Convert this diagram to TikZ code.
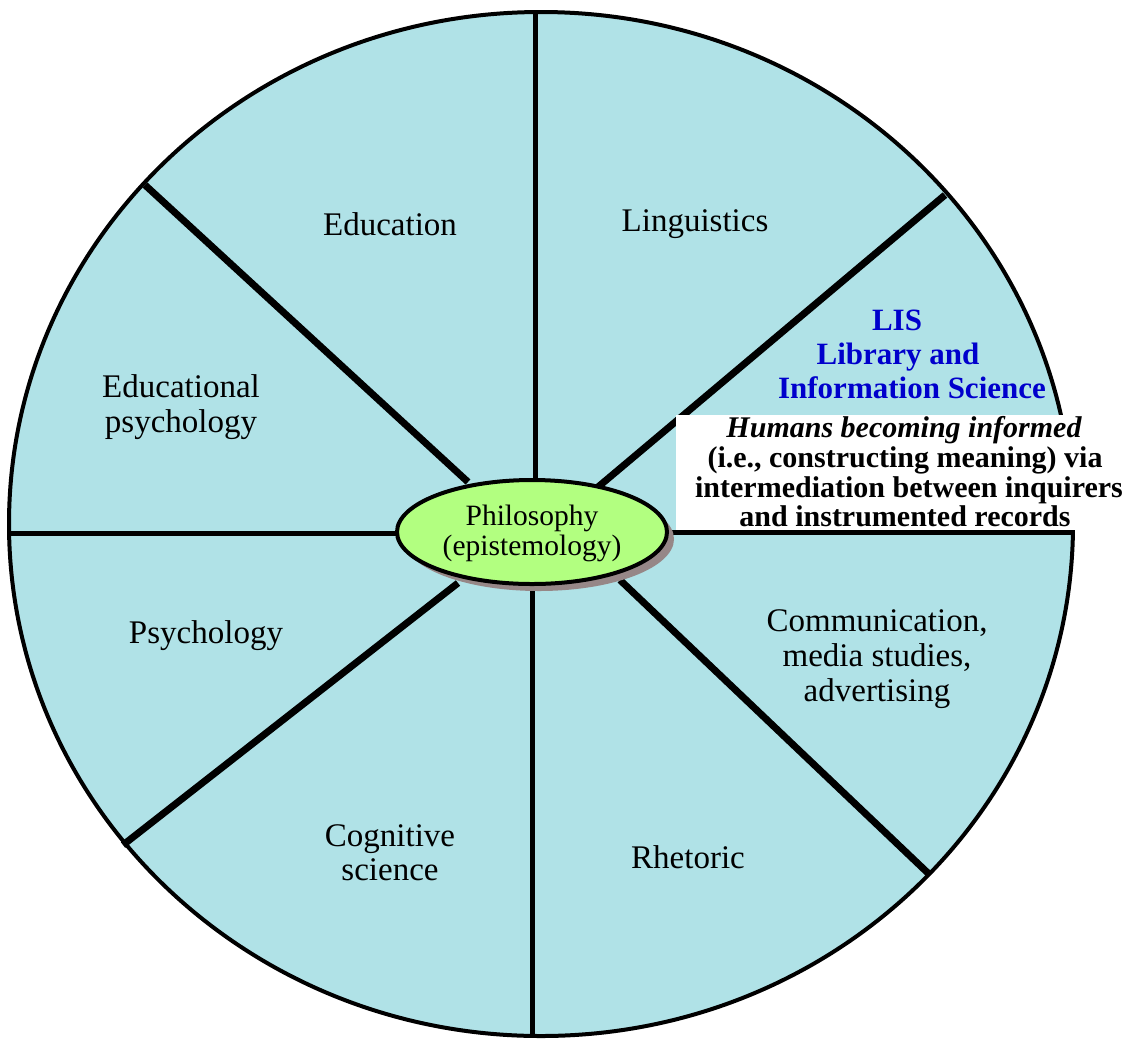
\documentclass[tikz,border=0pt]{standalone}
\usepackage{fontspec}
\setmainfont{Liberation Serif}
\newfontfamily\tnr{Liberation Serif}
\usetikzlibrary{shapes.geometric}
\definecolor{sector}{RGB}{176,226,231}
\definecolor{philo}{RGB}{178,255,128}
\definecolor{shadowc}{RGB}{150,135,135}
\definecolor{lisblue}{RGB}{0,0,204}
\tikzset{
  lbl/.style={anchor=base,inner sep=0pt,font=\tnr\fontsize{33}{35}\selectfont},
  lisl/.style={anchor=base,inner sep=0pt,text=lisblue,font=\tnr\fontsize{31}{35}\selectfont\bfseries},
  defl/.style={anchor=base,inner sep=0pt,font=\tnr\fontsize{30}{30}\selectfont\bfseries},
  phl/.style={anchor=base,inner sep=0pt,font=\tnr\fontsize{29.5}{30}\selectfont},
  spoke/.style={line width=7pt},
  thinspoke/.style={line width=5pt},
}
\begin{document}
\begin{tikzpicture}[x=1pt,y=-1pt]
\useasboundingbox (0,0) rectangle (1139,1039);
% outer disc
\fill[sector] (541,524) ellipse [x radius=532, y radius=512];
\draw[line width=4pt] (541,524) ellipse [x radius=532, y radius=512];
% coordinates
\coordinate (ul) at (145,185);
\coordinate (uli) at (468,482);
\coordinate (ur) at (945,195);
\coordinate (uri) at (598,487);
\coordinate (ll) at (123,845);
\coordinate (lli) at (458,583);
\coordinate (lr) at (930,875);
\coordinate (lri) at (620,580);
\coordinate (tp) at (535,12);
\coordinate (tpi) at (535,482);
\coordinate (bt) at (532,1036);
\coordinate (bti) at (532,583);
\coordinate (lf) at (9,533);
\coordinate (lfi) at (400,533);
\coordinate (rt) at (1071,532);
\coordinate (rti) at (666,532);
% spokes
\draw[spoke] (ul) -- (uli);
\draw[spoke] (ur) -- (uri);
\draw[spoke] (ll) -- (lli);
\draw[spoke] (lr) -- (lri);
\draw[thinspoke] (tp) -- (tpi);
\draw[thinspoke] (bt) -- (bti);
\draw[thinspoke] (lf) -- (lfi);
% white definition box
\fill[white] (676,415) rectangle (1139,530);
\draw[thinspoke] (rti) -- (rt);
% centre
\fill[shadowc] (539,539) ellipse [x radius=135, y radius=52];
\node[ellipse,draw,line width=4pt,fill=philo,minimum width=270pt,minimum height=104pt,inner sep=0pt] (phil) at (532,532) {};
\node[phl] (ph1) at (532,525) {Philosophy};
\node[phl] (ph2) at (532,555) {(epistemology)};
% sector labels
\node[lbl] (edu) at (390,235) {Education};
\node[lbl] (ling) at (695,231) {Linguistics};
\node[lbl] (ep1) at (181,397) {Educational};
\node[lbl] (ep2) at (181,432) {psychology};
\node[lbl] (psy) at (206,643) {Psychology};
\node[lbl] (cs1) at (390,846) {Cognitive};
\node[lbl] (cs2) at (390,880) {science};
\node[lbl] (rh) at (688,868) {Rhetoric};
\node[lbl] (cm1) at (877,631) {Communication,};
\node[lbl] (cm2) at (877,666) {media studies,};
\node[lbl] (cm3) at (877,701) {advertising};
% LIS
\node[lisl] (lis1) at (897,330) {LIS};
\node[lisl] (lis2) at (898,364) {Library and};
\node[lisl] (lis3) at (912,398) {Information Science};
% definition
\node[defl] (d1) at (904,437) {\itshape Humans becoming informed};
\node[defl] (d2) at (905,467) {(i.e., constructing meaning) via};
\node[defl] (d3) at (909,497) {intermediation between inquirers};
\node[defl] (d4) at (905,526) {and instrumented records};
\end{tikzpicture}
\end{document}
